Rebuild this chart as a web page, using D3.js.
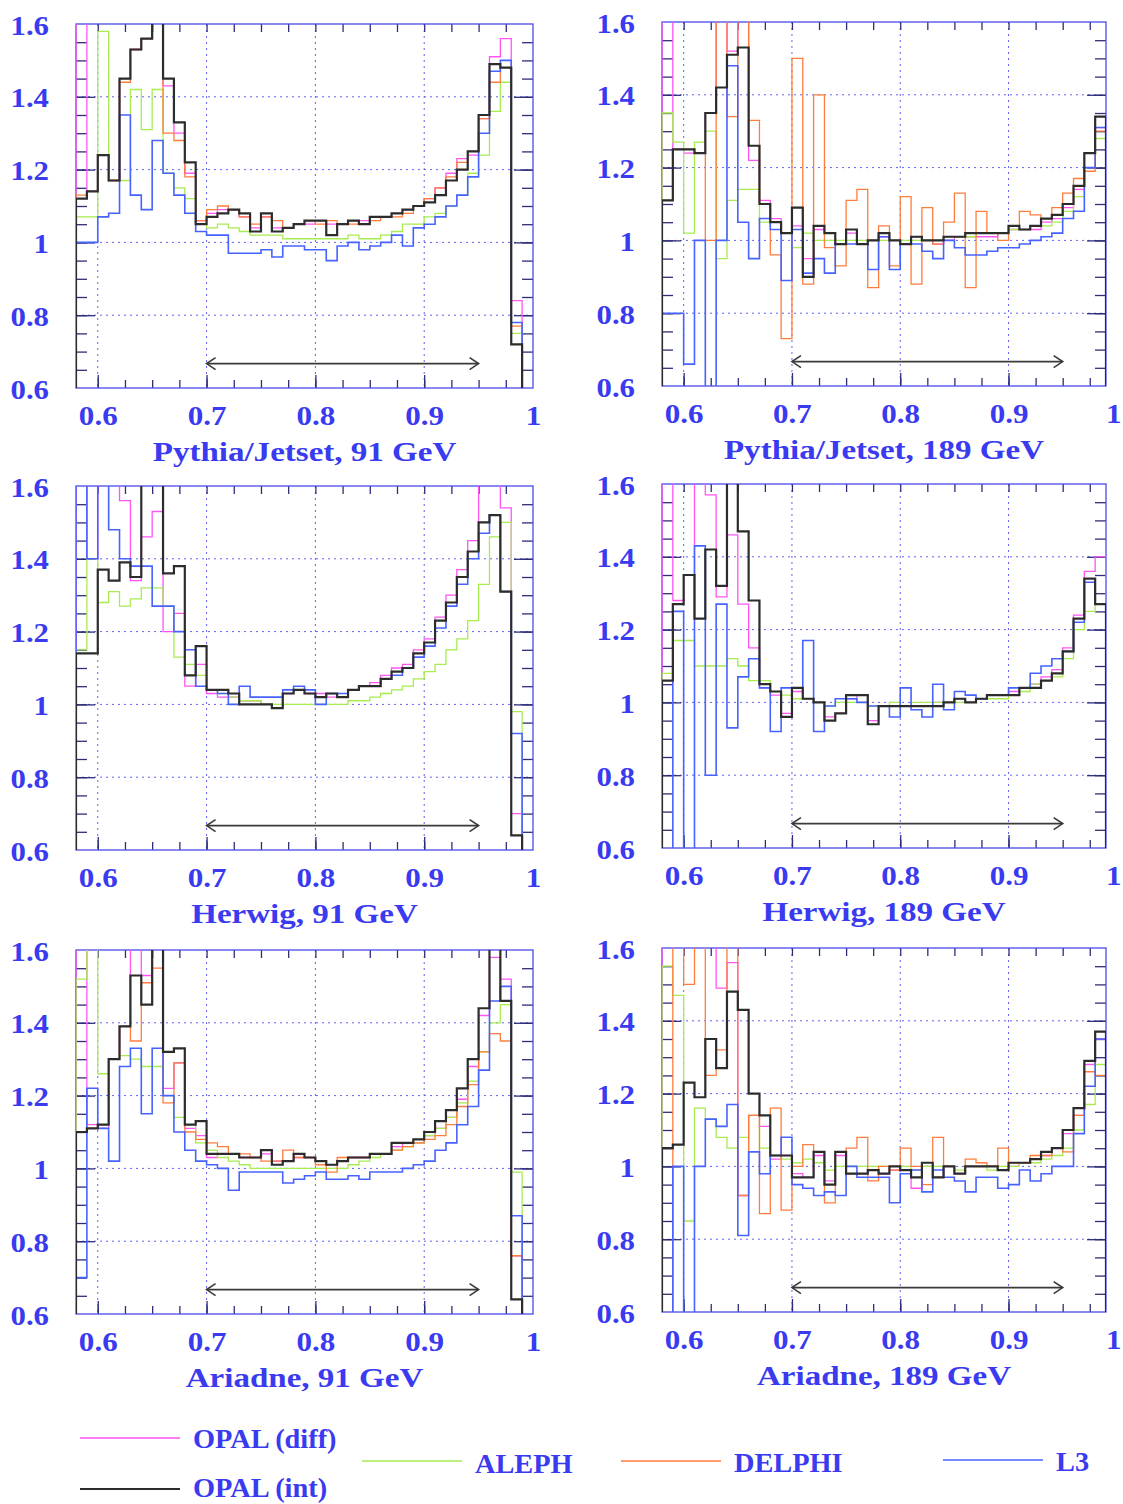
<!DOCTYPE html>
<html>
<head>
<meta charset="utf-8">
<script src="https://cdn.jsdelivr.net/npm/d3@7"></script>
<style>
  body { margin: 0; background: #fff; }
  svg text { font-family: "Liberation Serif", "Times New Roman", serif; font-weight: bold; fill: #3a3af0; }
</style>
</head>
<body>
<svg id="svg" width="1123" height="1504"></svg>
<script>
(function() {
  'use strict';

  // bins start at 0.58 and are 0.01 wide
  var binLow = 0.58, binWidth = 0.01;

  // ---- Pythia/Jetset, 91 GeV ----
  var pyt91Diff = [1.70,1.14,1.24,1.17,1.45,1.53,1.56,1.70,1.43,1.30, 1.19,1.06,1.08,1.09,1.09,1.07,1.04,1.07,1.04,1.04,
                   1.05,1.05,1.06,1.05,1.05,1.06,1.06,1.07,1.07,1.08, 1.09,1.10,1.12,1.15,1.19,1.23,1.24,1.34,1.51,1.56, 0.84,0.50];
  var pyt91Aleph = [1.07,1.07,1.58,1.17,1.17,1.42,1.31,1.42,1.19,1.15, 1.12,1.05,1.04,1.05,1.04,1.03,1.02,1.02,1.02,1.01,
                    1.01,1.01,1.01,1.01,1.01,1.02,1.01,1.01,1.02,1.03, 1.05,1.05,1.07,1.08,1.10,1.13,1.19,1.24,1.36,1.44, 0.75,0.50];
  var pyt91Delphi = [1.13,1.14,1.24,1.17,1.44,1.53,1.56,1.70,1.30,1.28, 1.18,1.06,1.09,1.10,1.09,1.07,1.05,1.07,1.06,1.04,
                     1.05,1.06,1.05,1.06,1.05,1.05,1.05,1.06,1.07,1.07, 1.08,1.10,1.12,1.15,1.18,1.22,1.25,1.34,1.44,1.48, 0.77,0.50];
  var pyt91L3 = [1.00,1.00,1.07,1.08,1.35,1.13,1.09,1.28,1.19,1.13, 1.08,1.03,1.02,1.02,0.97,0.97,0.97,0.98,0.96,0.99,
                 0.99,0.98,0.98,0.95,0.99,1.00,0.98,0.99,1.00,1.02, 0.99,1.04,1.05,1.07,1.10,1.13,1.18,1.30,1.47,1.50, 0.78,0.50];
  var pyt91Int = [1.12,1.14,1.24,1.17,1.45,1.53,1.56,1.70,1.45,1.33, 1.22,1.05,1.07,1.08,1.09,1.08,1.03,1.08,1.03,1.04,
                  1.05,1.06,1.06,1.02,1.05,1.06,1.05,1.07,1.07,1.08, 1.09,1.10,1.11,1.13,1.17,1.20,1.25,1.35,1.49,1.48, 0.72,0.50];

  // ---- Pythia/Jetset, 189 GeV ----
  var pyt189Diff = [1.70,1.25,1.24,1.24,1.35,1.70,1.52,1.70,1.22,1.11, 1.06,1.02,1.04,0.95,1.03,1.02,0.99,1.02,0.99,1.00,
                    1.01,1.00,0.99,1.01,1.00,0.99,1.00,1.01,1.01,1.01, 1.01,1.02,1.03,1.03,1.03,1.05,1.06,1.09,1.14,1.24, 1.31];
  var pyt189Aleph = [1.35,1.27,1.02,1.27,1.30,0.95,1.11,1.14,1.14,1.05, 1.05,1.02,0.98,1.02,1.00,1.00,1.00,1.00,1.00,1.00,
                     1.00,1.00,1.00,1.00,1.00,1.00,1.01,1.01,1.01,1.02, 1.02,1.02,1.03,1.03,1.04,1.04,1.05,1.08,1.12,1.20, 1.28];
  var pyt189Delphi = [1.11,1.25,1.25,1.24,1.00,1.70,1.34,1.70,1.33,1.10, 0.96,0.73,1.50,0.88,1.40,0.98,0.93,1.11,1.14,0.87,
                      1.04,0.93,1.12,0.88,1.09,0.99,1.05,1.13,0.87,1.08, 1.02,1.00,1.04,1.08,1.07,1.06,1.09,1.13,1.17,1.19, 1.30];
  var pyt189L3 = [0.80,0.80,0.66,1.00,0.50,1.00,1.48,1.05,0.95,1.06, 1.03,0.89,1.03,0.91,0.95,0.91,0.99,0.99,0.99,0.92,
                  1.01,0.92,0.99,0.99,0.97,0.95,1.00,0.98,0.96,0.96, 0.97,0.98,0.98,0.99,1.00,1.01,1.02,1.06,1.08,1.20, 1.31];
  var pyt189Int = [1.11,1.25,1.25,1.24,1.35,1.42,1.51,1.53,1.26,1.10, 1.05,1.02,1.09,0.90,1.04,1.02,0.99,1.03,0.99,1.00,
                   1.02,1.00,0.99,1.01,1.00,1.00,1.01,1.01,1.02,1.02, 1.02,1.02,1.04,1.03,1.04,1.06,1.07,1.10,1.15,1.24, 1.34];

  // ---- Herwig, 91 GeV ----
  var her91Diff = [1.70,1.40,1.70,1.70,1.56,1.34,1.46,1.53,1.20,1.25, 1.05,1.11,1.03,1.02,1.02,1.01,1.01,1.00,0.99,1.03,
                   1.04,1.03,1.03,1.02,1.02,1.04,1.05,1.06,1.08,1.10, 1.11,1.15,1.18,1.24,1.30,1.37,1.45,1.70,1.70,1.54, 0.70,0.50];
  var her91Aleph = [1.15,1.40,1.28,1.31,1.27,1.29,1.32,1.32,1.27,1.13, 1.11,1.08,1.04,1.03,1.02,1.01,1.01,1.00,1.00,1.00,
                    1.00,1.00,1.00,1.00,1.00,1.01,1.01,1.02,1.03,1.04, 1.05,1.07,1.09,1.11,1.15,1.18,1.23,1.33,1.46,1.50, 0.98,0.50];
  var her91L3 = [1.70,1.40,1.70,1.48,1.40,1.38,1.38,1.27,1.27,1.20, 1.15,1.05,1.04,1.03,1.00,1.05,1.02,1.02,1.02,1.04,
                 1.05,1.04,1.00,1.03,1.03,1.04,1.05,1.05,1.07,1.08, 1.10,1.13,1.16,1.21,1.27,1.33,1.40,1.47,1.52,1.31, 0.92,0.50];
  var her91Int = [1.14,1.14,1.37,1.34,1.39,1.35,1.70,1.70,1.36,1.38, 1.08,1.16,1.04,1.04,1.03,1.00,1.00,1.00,0.99,1.03,
                  1.04,1.03,1.02,1.03,1.02,1.04,1.05,1.05,1.07,1.09, 1.10,1.14,1.17,1.23,1.28,1.35,1.42,1.50,1.52,1.31, 0.64,0.50];

  // ---- Herwig, 189 GeV ----
  var her189Diff = [1.70,1.28,1.35,1.70,1.57,1.29,1.46,1.27,1.15,1.04, 1.02,0.97,1.03,1.01,1.00,0.96,0.97,1.01,1.02,0.95,
                    0.99,0.99,0.99,0.99,0.99,1.00,1.00,1.01,1.00,1.01, 1.02,1.02,1.03,1.04,1.05,1.07,1.09,1.15,1.24,1.36, 1.40];
  var her189Aleph = [1.08,1.17,1.17,1.10,1.10,1.10,1.12,1.10,1.06,1.06, 1.03,1.02,1.01,1.01,1.00,0.99,1.00,1.00,1.00,0.99,
                     0.99,1.00,0.99,1.00,1.00,1.00,1.00,1.00,1.00,1.01, 1.01,1.01,1.02,1.03,1.05,1.06,1.07,1.12,1.20,1.25, 1.27];
  var her189L3 = [0.50,1.25,0.50,1.43,0.80,1.27,0.93,1.07,1.12,1.04, 0.92,1.04,1.04,1.17,0.92,0.99,1.01,1.01,1.00,0.99,
                  0.99,0.96,1.04,0.98,0.96,1.05,0.98,1.03,1.02,1.01, 1.02,1.02,1.04,1.04,1.08,1.10,1.12,1.14,1.22,1.33, 1.27];
  var her189Int = [1.06,1.27,1.35,1.23,1.42,1.32,1.70,1.47,1.28,1.05, 1.03,0.96,1.04,1.01,1.00,0.95,0.97,1.02,1.02,0.94,
                   0.99,0.99,0.99,0.99,0.99,0.99,1.00,1.01,1.00,1.01, 1.02,1.02,1.02,1.04,1.04,1.06,1.08,1.14,1.23,1.34, 1.27];

  // ---- Ariadne, 91 GeV ----
  var ari91Diff = [1.70,1.12,1.11,1.30,1.39,1.70,1.53,1.70,1.22,1.29, 1.11,1.09,1.03,1.04,1.04,1.03,1.03,1.04,1.02,1.02,
                   1.03,1.03,1.02,1.01,1.02,1.03,1.03,1.04,1.04,1.06, 1.07,1.07,1.09,1.11,1.14,1.19,1.28,1.42,1.58,1.52, 0.76,0.50];
  var ari91Aleph = [1.52,1.70,1.26,1.30,1.31,1.30,1.28,1.28,1.20,1.14, 1.12,1.07,1.05,1.03,1.02,1.01,1.00,1.00,1.00,1.00,
                    1.00,1.00,1.00,1.00,1.00,1.01,1.02,1.03,1.04,1.05, 1.06,1.07,1.09,1.11,1.14,1.18,1.24,1.32,1.40,1.45, 0.99,0.50];
  var ari91Delphi = [1.10,1.11,1.12,1.30,1.39,1.35,1.51,1.55,1.18,1.29, 1.10,1.08,1.07,1.06,1.04,1.04,1.03,1.02,1.02,1.05,
                     1.03,1.03,1.01,0.99,1.03,1.03,1.03,1.04,1.04,1.05, 1.06,1.07,1.08,1.09,1.12,1.17,1.23,1.32,1.37,1.35, 0.76,0.50];
  var ari91L3 = [0.70,1.22,1.11,1.02,1.28,1.33,1.15,1.33,1.20,1.10, 1.05,1.02,1.01,1.00,0.94,0.99,0.99,0.99,0.99,0.96,
                 0.97,0.98,0.99,0.97,0.97,0.98,0.97,0.99,0.99,0.99, 1.00,1.01,1.02,1.05,1.07,1.12,1.17,1.27,1.46,1.50, 0.87,0.50];
  var ari91Int = [1.10,1.11,1.12,1.30,1.39,1.53,1.45,1.70,1.32,1.33, 1.12,1.13,1.04,1.04,1.04,1.03,1.03,1.05,1.01,1.02,
                  1.04,1.03,1.02,1.01,1.02,1.03,1.03,1.04,1.04,1.07, 1.07,1.08,1.10,1.13,1.16,1.22,1.30,1.44,1.70,1.46, 0.64,0.50];

  // ---- Ariadne, 189 GeV ----
  var ari189Diff = [1.70,1.70,1.70,1.70,1.70,1.49,1.56,0.92,1.14,1.11, 1.02,1.03,0.98,0.97,1.03,0.96,1.03,0.98,0.98,0.99,
                    0.98,0.99,0.99,0.94,1.00,0.97,1.00,0.98,1.00,1.00, 1.00,0.99,1.00,1.01,1.02,1.03,1.05,1.09,1.14,1.28, 1.35];
  var ari189Aleph = [1.55,1.47,0.85,1.16,1.13,1.08,1.05,1.08,1.14,1.05, 1.03,1.02,1.01,1.02,1.01,0.99,1.00,1.00,1.00,1.00,
                     1.00,1.00,1.00,0.99,1.00,1.00,1.00,0.99,1.00,1.00, 0.99,1.00,1.00,1.01,1.01,1.02,1.03,1.05,1.10,1.17, 1.28];
  var ari189Delphi = [0.50,1.70,1.50,1.70,1.25,1.32,1.70,0.92,1.14,0.87, 1.16,0.88,1.00,1.06,1.04,0.90,1.04,1.05,1.08,0.96,
                      1.00,0.99,1.05,1.00,0.95,1.08,1.00,0.98,1.02,1.01, 1.00,1.05,1.01,1.01,1.03,1.03,1.05,1.04,1.14,1.26, 1.25];
  var ari189L3 = [0.50,1.00,0.50,1.00,1.13,1.11,1.17,0.81,1.04,0.98, 1.03,1.08,0.95,0.94,0.92,0.93,0.92,1.00,0.97,0.97,
                  0.97,0.90,0.98,0.99,0.93,0.99,0.97,0.96,0.93,0.97, 0.97,0.94,0.95,0.99,0.96,0.98,1.00,1.00,1.09,1.22, 1.35];
  var ari189Int = [1.05,1.06,1.23,1.19,1.35,1.27,1.48,1.43,1.20,1.14, 1.03,1.03,0.97,0.97,1.04,0.95,1.04,0.98,0.98,0.99,
                   0.98,1.00,0.99,0.97,1.01,0.97,1.00,0.98,1.00,1.00, 1.00,0.99,1.01,1.01,1.02,1.04,1.05,1.10,1.16,1.29, 1.37];

  var titles = ['Pythia/Jetset, 91 GeV', 'Pythia/Jetset, 189 GeV', 'Herwig, 91 GeV',
                'Herwig, 189 GeV', 'Ariadne, 91 GeV', 'Ariadne, 189 GeV'];
  var xTickLabels = [0.6, 0.7, 0.8, 0.9, 1.0];
  var yTickLabels = [0.6, 0.8, 1.0, 1.2, 1.4, 1.6];
  var arrowFrom = 0.7, arrowTo = 0.95, arrowLevel = 0.667;

  var series = [
    { key: 'diff',   name: 'OPAL (diff)', color: '#ff55f5', width: 1.3 },
    { key: 'aleph',  name: 'ALEPH',       color: '#a8ec50', width: 1.3 },
    { key: 'delphi', name: 'DELPHI',      color: '#ff7d3c', width: 1.3 },
    { key: 'l3',     name: 'L3',          color: '#4763ff', width: 1.6 },
    { key: 'int',    name: 'OPAL (int)',  color: '#2c2c2c', width: 2.2 }
  ];

  var panelData = [
    { diff: pyt91Diff,  aleph: pyt91Aleph,  delphi: pyt91Delphi,  l3: pyt91L3,  int: pyt91Int },
    { diff: pyt189Diff, aleph: pyt189Aleph, delphi: pyt189Delphi, l3: pyt189L3, int: pyt189Int },
    { diff: her91Diff,  aleph: her91Aleph,  delphi: null,         l3: her91L3,  int: her91Int },
    { diff: her189Diff, aleph: her189Aleph, delphi: null,         l3: her189L3, int: her189Int },
    { diff: ari91Diff,  aleph: ari91Aleph,  delphi: ari91Delphi,  l3: ari91L3,  int: ari91Int },
    { diff: ari189Diff, aleph: ari189Aleph, delphi: ari189Delphi, l3: ari189L3, int: ari189Int }
  ];

  var svg = d3.select('#svg');
  var frameColor = '#4a4ae6', tickColor = '#2e2e78', gridColor = '#6262f2';
  var fmt = function(d) { return d === 1 ? '1' : d3.format('.1f')(d); };
  var stretch = 1.15; // the original lettering is wider than Times

  // step outline of a histogram, starting and ending below the frame
  var line = d3.line().curve(d3.curveStepAfter);
  function stepPath(vals, x, y) {
    var pts = [[x(binLow), y(0.5)]];
    vals.forEach(function(v, i) { pts.push([x(binLow + i * binWidth), y(v)]); });
    pts.push([x(binLow + vals.length * binWidth), y(0.5)]);
    return line(pts);
  }

  panelData.forEach(function(data, k) {
    var col = k % 2, row = Math.floor(k / 2);
    var left = col ? 662 : 76;
    var xMax = col ? 0.99 : 1.0;
    var right = col ? 1106 : 533;
    var top = [24, 486, 950][row] - (col ? 2 : 0);
    var bottom = top + 364;

    var x = d3.scaleLinear().domain([binLow, xMax]).range([left, right]);
    var y = d3.scaleLinear().domain([0.6, 1.6]).range([bottom, top]);
    var g = svg.append('g');

    g.append('clipPath').attr('id', 'clip' + k)
      .append('rect').attr('x', left).attr('y', top)
      .attr('width', right - left).attr('height', bottom - top);

    // dotted grid
    g.selectAll('.gx').data([0.6, 0.7, 0.8, 0.9]).enter().append('line')
      .attr('x1', function(d) { return x(d); }).attr('x2', function(d) { return x(d); })
      .attr('y1', top).attr('y2', bottom)
      .attr('stroke', gridColor).attr('stroke-width', 1).attr('stroke-dasharray', '2,4');
    g.selectAll('.gy').data([0.8, 1.0, 1.2, 1.4]).enter().append('line')
      .attr('x1', left).attr('x2', right)
      .attr('y1', function(d) { return y(d); }).attr('y2', function(d) { return y(d); })
      .attr('stroke', gridColor).attr('stroke-width', 1).attr('stroke-dasharray', '2,4');

    // inward ticks on all four sides
    var xMinor = d3.range(0.6, xMax - 0.001, 0.025);
    var yMinor = d3.range(0.65, 1.59, 0.05);
    function styleTicks(sel) {
      sel.select('.domain').remove();
      sel.selectAll('line').attr('stroke', tickColor).attr('stroke-width', 1.3);
    }
    g.append('g').attr('transform', 'translate(0,' + bottom + ')')
      .call(d3.axisBottom(x).tickValues(xMinor).tickSize(-8).tickFormat('')).call(styleTicks);
    g.append('g').attr('transform', 'translate(0,' + bottom + ')')
      .call(d3.axisBottom(x).tickValues([0.6, 0.7, 0.8, 0.9]).tickSize(-13).tickFormat('')).call(styleTicks);
    g.append('g').attr('transform', 'translate(0,' + top + ')')
      .call(d3.axisTop(x).tickValues(xMinor).tickSize(-8).tickFormat('')).call(styleTicks);
    g.append('g').attr('transform', 'translate(' + left + ',0)')
      .call(d3.axisLeft(y).tickValues(yMinor).tickSize(-11).tickFormat('')).call(styleTicks);
    g.append('g').attr('transform', 'translate(' + left + ',0)')
      .call(d3.axisLeft(y).tickValues([0.8, 1.0, 1.2, 1.4]).tickSize(-19).tickFormat('')).call(styleTicks);
    g.append('g').attr('transform', 'translate(' + right + ',0)')
      .call(d3.axisRight(y).tickValues(yMinor).tickSize(-11).tickFormat('')).call(styleTicks);
    g.append('g').attr('transform', 'translate(' + right + ',0)')
      .call(d3.axisRight(y).tickValues([0.8, 1.0, 1.2, 1.4]).tickSize(-19).tickFormat('')).call(styleTicks);

    // frame
    g.append('rect').attr('x', left).attr('y', top)
      .attr('width', right - left).attr('height', bottom - top)
      .attr('fill', 'none').attr('stroke', frameColor).attr('stroke-width', 1.3);

    // histograms
    var lines = g.append('g').attr('clip-path', 'url(#clip' + k + ')');
    series.forEach(function(s) {
      if (!data[s.key]) return;
      lines.append('path')
        .attr('d', stepPath(data[s.key], x, y))
        .attr('fill', 'none')
        .attr('stroke', s.color)
        .attr('stroke-width', s.width)
        .attr('stroke-linejoin', 'miter');
    });

    // fit-range arrow
    var ay = y(arrowLevel), a0 = x(arrowFrom), a1 = x(arrowTo);
    var arrow = g.append('g').attr('fill', 'none').attr('stroke', '#3a3a3a').attr('stroke-width', 1.6);
    arrow.append('line').attr('x1', a0).attr('x2', a1).attr('y1', ay).attr('y2', ay);
    arrow.append('path').attr('d', 'M' + (a0 + 9) + ',' + (ay - 6) + 'L' + a0 + ',' + ay + 'L' + (a0 + 9) + ',' + (ay + 6));
    arrow.append('path').attr('d', 'M' + (a1 - 9) + ',' + (ay - 6) + 'L' + a1 + ',' + ay + 'L' + (a1 - 9) + ',' + (ay + 6));

    // tick labels
    var xl = g.append('g').attr('transform', 'translate(0,' + bottom + ')')
      .call(d3.axisBottom(x).tickValues(xTickLabels).tickSize(0).tickPadding(18).tickFormat(fmt));
    xl.select('.domain').remove();
    xl.attr('font-size', null).attr('font-family', null);
    xl.selectAll('text').style('font-size', '27px').attr('fill', null)
      .attr('transform', 'scale(' + stretch + ',1)');
    if (col) {
      // the "1" sits past the frame at the page edge: keep it inside the page
      xl.selectAll('text').filter(function(d) { return d === 1; })
        .attr('text-anchor', 'end').attr('x', (1121 - x(1)) / stretch);
    }

    var yl = g.append('g').attr('transform', 'translate(' + left + ',0)')
      .call(d3.axisLeft(y).tickValues(yTickLabels).tickSize(0).tickPadding(27).tickFormat(fmt));
    yl.select('.domain').remove();
    yl.attr('font-size', null).attr('font-family', null);
    yl.selectAll('text').style('font-size', '28px').attr('dy', '0.36em').attr('fill', null)
      .attr('x', -27 / 1.1).attr('transform', 'scale(1.1,1)');

    g.append('text')
      .attr('transform', 'translate(' + ((left + right) / 2) + ',' + (bottom + 73) + ') scale(1.18,1)')
      .attr('text-anchor', 'middle')
      .style('font-size', '28px')
      .text(titles[k]);
  });

  // legend
  var legendPos = [
    { key: 'diff',   x: 80,  y: 1438, base: 1448 },
    { key: 'int',    x: 80,  y: 1489, base: 1497 },
    { key: 'aleph',  x: 362, y: 1461, base: 1473 },
    { key: 'delphi', x: 621, y: 1461, base: 1472 },
    { key: 'l3',     x: 943, y: 1460, base: 1471 }
  ];
  var legend = svg.append('g');
  legendPos.forEach(function(p) {
    var s = series.filter(function(d) { return d.key === p.key; })[0];
    legend.append('line')
      .attr('x1', p.x).attr('x2', p.x + 100).attr('y1', p.y).attr('y2', p.y)
      .attr('stroke', s.color).attr('stroke-width', p.key === 'int' ? 2 : 1.4);
    legend.append('text')
      .attr('transform', 'translate(' + (p.x + 113) + ',' + p.base + ') scale(1.05,1)')
      .style('font-size', '27px')
      .text(s.name);
  });
}());
</script>
</body>
</html>
